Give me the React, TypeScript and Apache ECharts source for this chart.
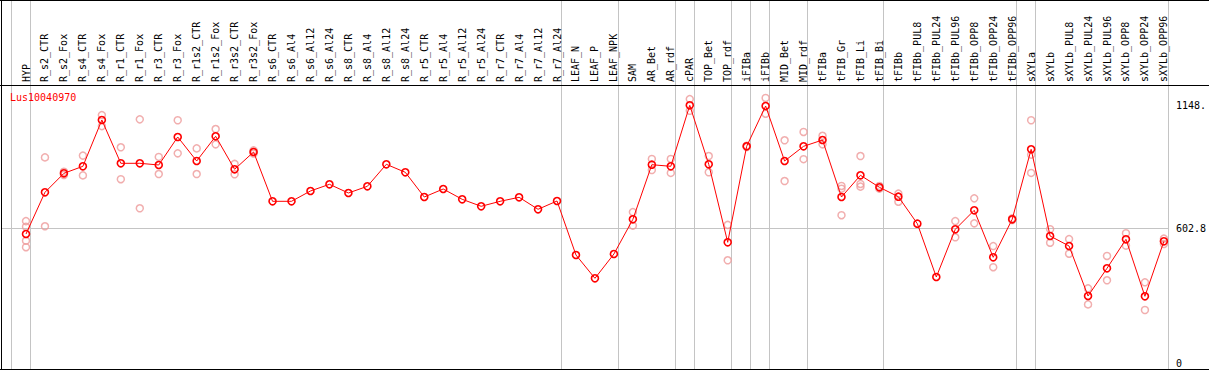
import React, { useEffect, useRef } from "react";
import * as echarts from "echarts";

const categories: string[] = [
  "HYP", "R_s2_CTR", "R_s2_Fox", "R_s4_CTR", "R_s4_Fox", "R_r1_CTR", "R_r1_Fox", "R_r3_CTR", "R_r3_Fox",
  "R_r1s2_CTR", "R_r1s2_Fox", "R_r3s2_CTR", "R_r3s2_Fox", "R_s6_CTR", "R_s6_Al4", "R_s6_Al12", "R_s6_Al24",
  "R_s8_CTR", "R_s8_Al4", "R_s8_Al12", "R_s8_Al24", "R_r5_CTR", "R_r5_Al4", "R_r5_Al12", "R_r5_Al24",
  "R_r7_CTR", "R_r7_Al4", "R_r7_Al12", "R_r7_Al24", "LEAF_N", "LEAF_P", "LEAF_NPK", "SAM", "AR_Bet", "AR_rdf",
  "cPAR", "TOP_Bet", "TOP_rdf", "iFIBa", "iFIBb", "MID_Bet", "MID_rdf", "tFIBa", "tFIB_Gr", "tFIB_Li", "tFIB_Bi",
  "tFIBb", "tFIBb_PUL8", "tFIBb_PUL24", "tFIBb_PUL96", "tFIBb_OPP8", "tFIBb_OPP24", "tFIBb_OPP96",
  "sXYLa", "sXYLb", "sXYLb_PUL8", "sXYLb_PUL24", "sXYLb_PUL96", "sXYLb_OPP8", "sXYLb_OPP24", "sXYLb_OPP96",
];

const means: number[] = [
  576.6, 761.9, 846.3, 877.4, 1083.1, 890.7, 890.7, 883.2, 1007.6, 900.9, 1010.7, 864.1, 940.9,
  721.9, 721.9, 767.7, 797.4, 758.8, 788.5, 886.3, 850.7, 741.0, 776.6, 730.8, 699.7, 721.9, 739.7,
  686.4, 723.2, 483.3, 379.8, 487.8, 641.9, 884.5, 877.4, 1148.4, 886.3, 539.8, 966.2, 1145.3, 900.9,
  966.2, 994.2, 741.0, 837.4, 784.1, 742.3, 622.4, 385.6, 597.5, 681.9, 473.1, 641.9, 952.9, 567.8,
  523.3, 301.2, 424.3, 553.1, 299.9, 544.2,
];

const replicates: number[][] = [
  [634, 609, 547, 518], [917, 611], [853, 839], [925, 837], [1105, 1056], [962, 820], [1086, 691],
  [919, 843], [1082, 935], [957, 843], [1043, 975], [888, 842], [948, 934],
  [], [], [], [], [], [], [], [], [], [], [], [], [], [], [], [], [], [], [],
  [674, 614], [910, 861], [910, 848], [1176, 1124], [923, 851], [617, 460], [969, 963], [1181, 1111],
  [993, 812], [1030, 909], [1013, 975], [790, 778, 660], [923, 799, 787], [790, 778], [756, 720],
  [], [], [634, 562], [735, 624], [523, 429], [646, 639], [1082, 929, 848], [598, 538], [554, 489],
  [335, 264], [479, 371], [580, 525], [362, 239], [556, 532],
];

const yTickValues: number[] = [0, 602.8, 1148];
const yTickLabels: string[] = ["0", "602.8", "1148."];
const referenceValue = 602.8;
const geneName = "Lus10040970";
// separators drawn just after these category indices
const groupBoundaries: number[] = [-1, 0, 28, 31, 34, 35, 37, 38, 39, 41, 45, 52, 53, 60];

export default function App() {
  const ref = useRef<HTMLDivElement>(null);
  useEffect(() => {
    document.body.style.margin = "0";
    const chart = echarts.init(ref.current!, null, { renderer: "svg" });
    const mono = "'DejaVu Sans Mono', monospace";
    const scatterData: number[][] = [];
    replicates.forEach((reps, i) => reps.forEach((v) => scatterData.push([i, v])));
    chart.setOption({
      animation: false,
      title: {
        text: geneName,
        left: 10,
        top: 92,
        padding: 0,
        textStyle: { color: "#ff0000", fontSize: 10, fontWeight: "normal", fontFamily: mono },
      },
      grid: { left: 26, top: 85, width: 1140.7, height: 278.8 },
      xAxis: {
        type: "category",
        data: categories,
        position: "top",
        boundaryGap: false,
        axisLine: { show: false },
        axisTick: { show: false },
        splitLine: { show: false },
        axisLabel: { interval: 0, rotate: 90, fontSize: 10, fontFamily: mono, color: "#000", margin: 3 },
      },
      yAxis: {
        type: "value",
        min: 0,
        max: 1238.6,
        position: "right",
        axisLine: { show: false },
        axisTick: { show: false },
        splitLine: { show: false },
        axisLabel: {
          customValues: yTickValues,
          formatter: (v: number) => {
            const k = yTickValues.findIndex((t) => Math.abs(t - v) < 1e-6);
            return k >= 0 ? yTickLabels[k] : "";
          },
          margin: 12,
          fontSize: 10,
          fontFamily: mono,
          color: "#000",
        },
      },
      series: [
        {
          type: "scatter",
          data: scatterData,
          symbol: "circle",
          symbolSize: 7,
          itemStyle: { color: "rgba(0,0,0,0)", borderColor: "#ee9a9a", borderWidth: 1.5 },
          z: 2,
        },
        {
          type: "line",
          data: means,
          symbol: "circle",
          symbolSize: 7,
          showAllSymbol: true,
          lineStyle: { color: "#ff0000", width: 1 },
          itemStyle: { color: "rgba(0,0,0,0)", borderColor: "#ff0000", borderWidth: 1.6 },
          z: 3,
        },
      ],
    });

    const p0 = chart.convertToPixel({ xAxisIndex: 0 }, 0) as number;
    const p1 = chart.convertToPixel({ xAxisIndex: 0 }, 1) as number;
    const step = p1 - p0;
    const sepXs = groupBoundaries.map((b) => Math.round(p0 + (b + 0.2) * step) + 0.5);
    const rightX = sepXs[sepXs.length - 1];
    const refY = Math.round(chart.convertToPixel({ yAxisIndex: 0 }, referenceValue) as number) + 0.5;
    const gray = "#c4c4c4";
    const graphics: any[] = [];
    sepXs.forEach((x) =>
      graphics.push({ type: "line", shape: { x1: x, y1: 0, x2: x, y2: 369 }, style: { stroke: gray, lineWidth: 1 }, z: 0 })
    );
    graphics.push({ type: "line", shape: { x1: 2, y1: refY, x2: rightX, y2: refY }, style: { stroke: gray, lineWidth: 1 }, z: 0 });
    const black = "#000";
    [0.5, 85.5, 369.5].forEach((y) =>
      graphics.push({ type: "line", shape: { x1: 0, y1: y, x2: 1209, y2: y }, style: { stroke: black, lineWidth: 1 }, z: 1 })
    );
    graphics.push({ type: "line", shape: { x1: 1.5, y1: 0, x2: 1.5, y2: 370 }, style: { stroke: black, lineWidth: 1 }, z: 1 });
    chart.setOption({ graphic: graphics });

    return () => chart.dispose();
  }, []);
  return <div ref={ref} style={{ width: 1209, height: 370 }} />;
}
